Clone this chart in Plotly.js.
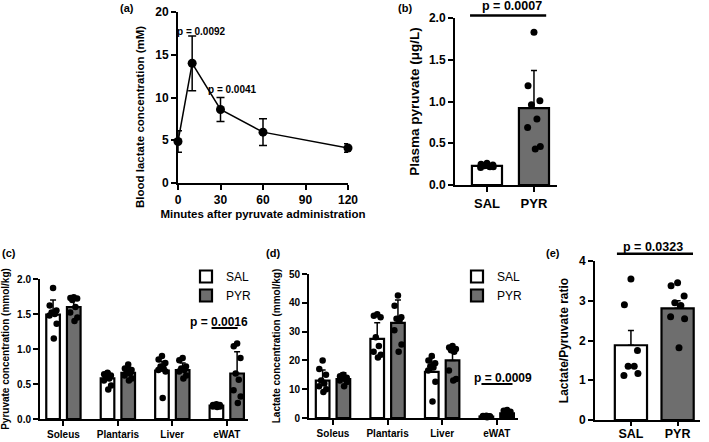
<!DOCTYPE html>
<html>
<head>
<meta charset="utf-8">
<script src="https://cdn.plot.ly/plotly-3.0.1.min.js"></script>
<style>html,body{margin:0;padding:0;background:#fff;}#chart{width:709px;height:442px;}</style>
</head>
<body>
<div id="chart"></div>
<script>
// ---------- DATA ----------
// (a) blood lactate time course
const aTime = [0, 10, 30, 60, 120];
const aLactate = [4.85, 14.0, 8.6, 5.95, 4.1];
const aErr = [1.25, 3.2, 1.4, 1.55, 0.5];

// (b) plasma pyruvate
const bGroups = ['SAL', 'PYR'];
const bMeans = [0.23, 0.92];
const bErr = [0.015, 0.45];
const bSalPts = [0.26, 0.25, 0.24, 0.23, 0.22, 0.21, 0.22, 0.23];
const bPyrPts = [1.83, 1.19, 1.01, 0.96, 0.79, 0.69, 0.46, 0.43];

// (c) tissue pyruvate
const tissues = ['Soleus', 'Plantaris', 'Liver', 'eWAT'];
const cSalMean = [1.49, 0.58, 0.69, 0.19];
const cSalErr = [0.21, 0.09, 0.13, 0.02];
const cPyrMean = [1.60, 0.66, 0.70, 0.65];
const cPyrErr = [0.13, 0.08, 0.10, 0.31];
const cSalPts = [
  [1.87, 1.62, 1.55, 1.52, 1.50, 1.48, 1.36, 1.15],
  [0.66, 0.64, 0.62, 0.60, 0.58, 0.55, 0.48, 0.42],
  [0.90, 0.85, 0.80, 0.75, 0.72, 0.70, 0.68, 0.30],
  [0.21, 0.20, 0.20, 0.19, 0.19, 0.18, 0.18, 0.17]
];
const cPyrPts = [
  [1.74, 1.73, 1.72, 1.70, 1.60, 1.52, 1.45, 1.40],
  [0.78, 0.72, 0.70, 0.68, 0.65, 0.62, 0.58, 0.55],
  [0.87, 0.84, 0.75, 0.72, 0.70, 0.68, 0.62, 0.58],
  [1.08, 1.04, 0.87, 0.65, 0.56, 0.41, 0.32, 0.23]
];

// (d) tissue lactate
const dSalMean = [13.0, 27.5, 16.0, 0.5];
const dSalErr = [3.7, 5.6, 5.0, 0.3];
const dPyrMean = [13.5, 33.0, 20.0, 1.6];
const dPyrErr = [2.2, 8.0, 3.6, 0.8];
const dSalPts = [
  [20.0, 17.0, 15.0, 13.0, 12.0, 11.0, 10.0, 9.0],
  [36.0, 35.5, 35.0, 28.0, 25.0, 23.0, 22.0, 21.0],
  [21.5, 20.0, 19.0, 18.0, 17.5, 16.5, 12.6, 5.7],
  [0.8, 0.7, 0.6, 0.5, 0.5, 0.4, 0.4, 0.3]
];
const dPyrPts = [
  [15.0, 14.5, 14.0, 14.0, 13.5, 13.0, 12.5, 11.0],
  [42.5, 39.0, 35.0, 34.5, 34.0, 30.5, 25.5, 23.0],
  [25.0, 24.5, 24.0, 23.5, 23.0, 16.5, 13.5, 13.0],
  [2.8, 2.5, 2.2, 1.8, 1.5, 1.2, 1.0, 0.8]
];

// (e) lactate / pyruvate ratio
const eGroups = ['SAL', 'PYR'];
const eMeans = [1.88, 2.81];
const eErr = [0.37, 0.19];
const eSalPts = [3.55, 2.90, 1.75, 1.35, 1.35, 1.12, 1.17];
const ePyrPts = [3.45, 3.38, 3.12, 2.95, 2.88, 2.60, 2.55, 1.82];

// p-value labels
const pA = ['p = 0.0092', 'p = 0.0041'];
const pB = 'p = 0.0007';
const pC = 'p = 0.0016';
const pD = 'p = 0.0009';
const pE = 'p = 0.0323';

// ---------- STYLE ----------
const FONT = 'Liberation Sans, Arial, Helvetica, sans-serif';
const GRAY = 'rgb(110,110,110)';
const JIT = [0.0, -0.28, 0.28, -0.12, 0.14, -0.3, 0.3, 0.06];
const W = 709, H = 442;
const px = v => v / W;
const py = v => 1 - v / H;

// panel geometry in pixels and data ranges (for items drawn above an axis range)
const GEO = {
  b: {x: [455, 557], y: [185, 18], xr: [-0.68, 1.49], yr: [0, 2]},
  e: {x: [595, 700], y: [420, 261], xr: [-0.77, 1.48], yr: [0, 4]}
};
function toPaperX(g, v) { const f = (v - g.xr[0]) / (g.xr[1] - g.xr[0]); return px(g.x[0] + f * (g.x[1] - g.x[0])); }
function toPaperY(g, v) { const f = (v - g.yr[0]) / (g.yr[1] - g.yr[0]); return py(g.y[0] + f * (g.y[1] - g.y[0])); }

function bf(size) { return {family: FONT, size: size, color: 'black', weight: 'bold'}; }

function axisBase(extra) {
  return Object.assign({
    showline: true, linewidth: 2, linecolor: 'black',
    ticks: 'outside', ticklen: 5, tickwidth: 2, tickcolor: 'black',
    showgrid: false, zeroline: false, fixedrange: true
  }, extra);
}

const traces = [];

// (a)
traces.push({
  type: 'scatter', mode: 'lines+markers', x: aTime, y: aLactate,
  xaxis: 'x', yaxis: 'y', cliponaxis: false, showlegend: false,
  line: {color: 'black', width: 1.5},
  marker: {color: 'black', size: 9},
  error_y: {type: 'data', array: aErr, visible: true, color: 'black', thickness: 1.5, width: 4}
});

function barTrace(xs, ys, errs, fill, width, xa, ya, name, legend, showlegend) {
  return {
    type: 'bar', x: xs, y: ys, width: width, xaxis: xa, yaxis: ya,
    name: name, legend: legend, showlegend: showlegend,
    marker: {color: fill, line: {color: 'black', width: 2.2}},
    error_y: {type: 'data', symmetric: false, array: errs, arrayminus: errs.map(() => 0),
              visible: true, color: 'black', thickness: 1.5, width: 3}
  };
}
function ptsTrace(centers, ptsList, width, xa, ya, size) {
  const xs = [], ys = [];
  ptsList.forEach((pts, i) => {
    pts.forEach((v, j) => { xs.push(centers[i] + JIT[j % JIT.length] * width); ys.push(v); });
  });
  return {type: 'scatter', mode: 'markers', x: xs, y: ys, xaxis: xa, yaxis: ya,
          showlegend: false, cliponaxis: false, hoverinfo: 'y',
          marker: {color: 'black', size: size}};
}

// (b)
const bW = 0.64;
const bIdx = bGroups.map((_, i) => i);
traces.push(barTrace(bIdx, bMeans, bErr, ['white', GRAY], bW, 'x2', 'y2', 'b', 'legend', false));
traces.push(ptsTrace(bIdx, [bSalPts, bPyrPts], 0.45, 'x2', 'y2', 7));

// (c)
const gW = 0.25, gOff = 0.19;
const tIdx = tissues.map((_, i) => i);
const salX = tIdx.map(i => i - gOff), pyrX = tIdx.map(i => i + gOff);
traces.push(barTrace(salX, cSalMean, cSalErr, 'white', gW, 'x3', 'y3', 'SAL', 'legend', true));
traces.push(barTrace(pyrX, cPyrMean, cPyrErr, GRAY, gW, 'x3', 'y3', 'PYR', 'legend', true));
traces.push(ptsTrace(salX, cSalPts, 0.22, 'x3', 'y3', 6.5));
traces.push(ptsTrace(pyrX, cPyrPts, 0.22, 'x3', 'y3', 6.5));

// (d)
traces.push(barTrace(salX, dSalMean, dSalErr, 'white', gW, 'x4', 'y4', 'SAL', 'legend2', true));
traces.push(barTrace(pyrX, dPyrMean, dPyrErr, GRAY, gW, 'x4', 'y4', 'PYR', 'legend2', true));
traces.push(ptsTrace(salX, dSalPts, 0.22, 'x4', 'y4', 6.5));
traces.push(ptsTrace(pyrX, dPyrPts, 0.22, 'x4', 'y4', 6.5));

// (e)
const eW = 0.69;
const eIdx = eGroups.map((_, i) => i);
traces.push(barTrace(eIdx, eMeans, eErr, ['white', GRAY], eW, 'x5', 'y5', 'e', 'legend', false));
traces.push(ptsTrace(eIdx, [eSalPts, ePyrPts], 0.5, 'x5', 'y5', 7));

const legendStyle = {xanchor: 'left', yanchor: 'top', bgcolor: 'rgba(0,0,0,0)',
  font: {family: FONT, size: 12, color: 'black'}, itemwidth: 30, tracegroupgap: 0};

function note(text, xref, yref, x, y, size, extra) {
  return Object.assign({text: text, xref: xref, yref: yref, x: x, y: y, showarrow: false,
    xanchor: 'center', yanchor: 'middle', font: bf(size)}, extra || {});
}

const layout = {
  width: W, height: H,
  margin: {l: 0, r: 0, t: 0, b: 0},
  paper_bgcolor: 'white', plot_bgcolor: 'rgba(0,0,0,0)',
  font: {family: FONT, color: 'black'},
  bargap: 0, barmode: 'overlay',
  // (a)
  xaxis: axisBase({domain: [px(178), px(348)], anchor: 'y', range: [0, 120],
    tickvals: [0, 30, 60, 90, 120], tickfont: bf(12),
    title: {text: 'Minutes after pyruvate administration', font: bf(11.5), standoff: 4}}),
  yaxis: axisBase({domain: [py(183), py(12)], anchor: 'x', range: [0, 20], dtick: 5,
    tickfont: bf(12)}),
  // (b)
  xaxis2: axisBase({domain: [px(455), px(557)], anchor: 'y2', range: GEO.b.xr,
    tickvals: bIdx, ticktext: bGroups, tickfont: bf(13)}),
  yaxis2: axisBase({domain: [py(185), py(18)], anchor: 'x2', range: GEO.b.yr, dtick: 0.5,
    tickformat: '.1f', tickfont: bf(12),
    title: {text: 'Plasma pyruvate (μg/L)', font: bf(13.5), standoff: 6}}),
  // (c)
  xaxis3: axisBase({domain: [px(40), px(248)], anchor: 'y3', range: [-0.43, 3.39],
    tickvals: tIdx, ticktext: tissues, tickfont: bf(10)}),
  yaxis3: axisBase({domain: [py(419), py(279)], anchor: 'x3', range: [0, 2], dtick: 0.5,
    tickformat: '.1f', tickfont: bf(10),
    title: {text: 'Pyruvate concentration (mmol/kg)', font: bf(10), standoff: 6}}),
  // (d)
  xaxis4: axisBase({domain: [px(309), px(518)], anchor: 'y4', range: [-0.44, 3.39],
    tickvals: tIdx, ticktext: tissues, tickfont: bf(10)}),
  yaxis4: axisBase({domain: [py(418), py(274)], anchor: 'x4', range: [0, 50], dtick: 10,
    tickfont: bf(10),
    title: {text: 'Lactate concentration (mmol/kg)', font: bf(10), standoff: 6}}),
  // (e)
  xaxis5: axisBase({domain: [px(595), px(700)], anchor: 'y5', range: GEO.e.xr,
    tickvals: eIdx, ticktext: eGroups, tickfont: bf(12.5), ticklen: 4, ticklabelstandoff: -3}),
  yaxis5: axisBase({domain: [py(420), py(261)], anchor: 'x5', range: GEO.e.yr, dtick: 1,
    tickfont: bf(12),
    title: {text: 'Lactate/Pyruvate ratio', font: bf(12), standoff: 8}}),
  legend: Object.assign({x: px(186), y: py(262)}, legendStyle),
  legend2: Object.assign({x: px(457), y: py(262)}, legendStyle),
  shapes: [
    {type: 'line', xref: 'paper', yref: 'paper', x0: toPaperX(GEO.b, -0.36), x1: toPaperX(GEO.b, 1.26),
      y0: toPaperY(GEO.b, 2.03), y1: toPaperY(GEO.b, 2.03), line: {color: 'black', width: 2.5}},
    {type: 'line', xref: 'x3', yref: 'y3', x0: 2.72, x1: 3.2, y0: 1.30, y1: 1.30, line: {color: 'black', width: 2}},
    {type: 'line', xref: 'x4', yref: 'y4', x0: 2.72, x1: 3.29, y0: 11.8, y1: 11.8, line: {color: 'black', width: 2}},
    {type: 'line', xref: 'paper', yref: 'paper', x0: toPaperX(GEO.e, -0.30), x1: toPaperX(GEO.e, 1.33),
      y0: toPaperY(GEO.e, 4.18), y1: toPaperY(GEO.e, 4.18), line: {color: 'black', width: 2.5}}
  ],
  annotations: [
    note('Blood lactate concentration (mM)', 'paper', 'paper', px(140), py(117), 11.5, {textangle: -90}),
    note('(a)', 'paper', 'paper', px(127), py(8), 11),
    note('(b)', 'paper', 'paper', px(405), py(8), 11),
    note('(c)', 'paper', 'paper', px(9), py(253), 11),
    note('(d)', 'paper', 'paper', px(273), py(253), 11),
    note('(e)', 'paper', 'paper', px(553), py(253), 11),
    note(pA[0], 'x', 'y', 16.9, 17.7, 10),
    note(pA[1], 'x', 'y', 38.8, 10.9, 10),
    note(pB, 'paper', 'paper', toPaperX(GEO.b, 0.53), toPaperY(GEO.b, 2.14), 12.5),
    note(pC, 'x3', 'y3', 2.85, 1.39, 12),
    note(pD, 'x4', 'y4', 3.11, 13.9, 12),
    note(pE, 'paper', 'paper', toPaperX(GEO.e, 0.47), toPaperY(GEO.e, 4.35), 12.5)
  ]
};

Plotly.newPlot('chart', traces, layout, {staticPlot: true, displayModeBar: false});
</script>
</body>
</html>
